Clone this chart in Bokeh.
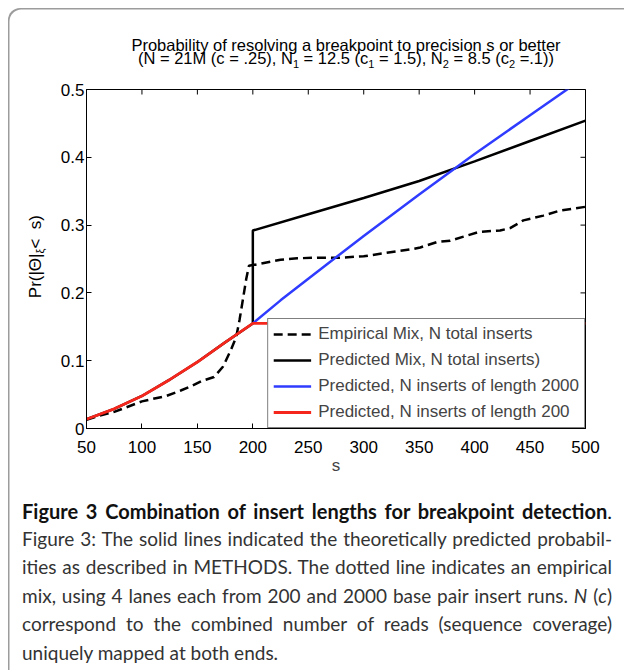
from math import pi
from bokeh.plotting import figure
from bokeh.models import Range1d, FixedTicker, Div
from bokeh.layouts import column, row
from bokeh.embed import file_html
from bokeh.resources import INLINE

# ---------------- data ----------------
s_emp = [50, 62, 75, 84, 100, 108, 122, 135, 144, 154, 165, 173, 180, 185, 188,
         191, 194, 196.5, 200, 207, 216, 225, 240, 258, 279, 300, 324, 345, 351,
         366, 378, 390, 404, 423, 432, 444, 462, 477, 500]
p_emp = [0.013, 0.019, 0.0245, 0.03, 0.04, 0.043, 0.048, 0.056, 0.062, 0.070,
         0.076, 0.091, 0.115, 0.135, 0.16, 0.19, 0.22, 0.240, 0.241, 0.243, 0.246,
         0.249, 0.251, 0.252, 0.252, 0.254, 0.260, 0.265, 0.267, 0.275, 0.277,
         0.283, 0.290, 0.292, 0.2955, 0.307, 0.314, 0.3215, 0.327]

s_mix = [50, 75, 100, 125, 150, 175, 200, 200, 250, 300, 350, 400, 450, 500]
p_mix = [0.0137, 0.029, 0.048, 0.072, 0.098, 0.127, 0.155, 0.292, 0.316, 0.340,
         0.365, 0.394, 0.424, 0.454]

s_2000 = [200, 225, 250, 300, 350, 400, 450, 500]
p_2000 = [0.155, 0.189, 0.221, 0.284, 0.345, 0.405, 0.462, 0.519]

s_200 = [50, 75, 100, 125, 150, 175, 200, 500]
p_200 = [0.0137, 0.029, 0.048, 0.072, 0.098, 0.127, 0.155, 0.155]

x_ticks = [50, 100, 150, 200, 250, 300, 350, 400, 450, 500]
y_ticks = [0, 0.1, 0.2, 0.3, 0.4, 0.5]
y_tick_labels = ["0", "0.1", "0.2", "0.3", "0.4", "0.5"]

series_labels = ["Empirical Mix, N total inserts",
                 "Predicted Mix, N total inserts)",
                 "Predicted, N inserts of length 2000",
                 "Predicted, N inserts of length 200"]

title_lines = ["Probability of resolving a breakpoint to precision s or better",
               "(N = 21M (c = .25), N<sub>1</sub> = 12.5 (c<sub>1</sub> = 1.5), "
               "N<sub>2</sub> = 8.5 (c<sub>2</sub> =.1))"]

caption_head = "Figure 3 Combination of insert lengths for breakpoint detection"
caption_lines = [
    "Figure 3: The solid lines indicated the theoretically predicted probabil-",
    "ities as described in METHODS. The dotted line indicates an empirical",
    "mix, using 4 lanes each from 200 and 2000 base pair insert runs. <i>N</i> (<i>c</i>)",
    "correspond to the combined number of reads (sequence coverage)",
    "uniquely mapped at both ends.",
]

FONT = "Liberation Sans"

# ---------------- figure ----------------
p = figure(frame_width=499, frame_height=339,
           min_border_left=34, min_border_right=39,
           min_border_top=11, min_border_bottom=60,
           x_range=Range1d(50, 500), y_range=Range1d(0, 0.5),
           output_backend="svg", toolbar_location=None,
           border_fill_color=None, background_fill_color="white")
p.outline_line_color = "black"
p.outline_line_width = 1
p.xgrid.visible = False
p.ygrid.visible = False

p.xaxis.ticker = FixedTicker(ticks=x_ticks)
p.yaxis.ticker = FixedTicker(ticks=y_ticks)
p.yaxis.major_label_overrides = {t: l for t, l in zip(y_ticks, y_tick_labels)}
p.xaxis.axis_label = "s"
p.xaxis.axis_label_text_font_style = "normal"
p.xaxis.axis_label_text_font = FONT
p.xaxis.axis_label_text_font_size = "17px"
p.xaxis.axis_label_standoff = 0
p.xaxis.major_label_standoff = 12
p.yaxis.major_label_standoff = 2

for ax in p.axis:
    ax.axis_line_color = "black"
    ax.major_tick_line_color = "black"
    ax.major_tick_in = 5
    ax.major_tick_out = 0
    ax.minor_tick_line_color = None
    ax.major_label_text_font = FONT
    ax.major_label_text_font_size = "17px"
    ax.major_label_text_color = "black"

# inward ticks on the top and right edges of the box
p.scatter(x_ticks, [y_ticks[-1]] * len(x_ticks), marker="dash", angle=pi / 2,
          size=10, line_color="black", line_width=1)
p.scatter([x_ticks[-1]] * len(y_ticks), y_ticks, marker="dash",
          size=10, line_color="black", line_width=1)

p.line(s_emp, p_emp, line_color="black", line_width=2.5, line_dash="9 5",
       legend_label=series_labels[0])
p.line(s_mix, p_mix, line_color="black", line_width=2.5,
       legend_label=series_labels[1])
p.line(s_2000, p_2000, line_color="#2f3cff", line_width=2.5,
       legend_label=series_labels[2])
p.line(s_200, p_200, line_color="#f5261c", line_width=2.8,
       legend_label=series_labels[3])

lg = p.legend[0]
lg.location = "bottom_right"
lg.margin = 0
lg.padding = 5
lg.spacing = 6
lg.glyph_height = 20
lg.glyph_width = 38
lg.label_height = 20
lg.label_standoff = 7
lg.label_text_font = FONT
lg.label_text_font_size = "17px"
lg.border_line_color = "black"
lg.border_line_width = 1
lg.background_fill_alpha = 1

# ---------------- title (two tight lines) ----------------
title_html = ('<div style="width:540px; margin-left:68px; padding-top:31px; '
              'font-family:\'Liberation Sans\'; font-size:16.5px; line-height:13px; '
              'color:#000; text-align:center; white-space:nowrap;">'
              + '<div>' + title_lines[0] + '</div>'
              + '<div>' + title_lines[1].replace(
                  '<sub>', '<sub style="font-size:11px; line-height:0;">') + '</div>'
              + '</div>')
title_div = Div(text=title_html, width=616, height=70, margin=0)

# ---------------- y axis label ----------------
ylab_html = ('<div style="position:relative; width:44px; height:410px;">'
             '<div style="position:absolute; left:18px; bottom:190px; '
             'writing-mode:vertical-rl; transform:rotate(180deg); '
             'font-family:\'Liberation Sans\'; font-size:17px; line-height:20px; '
             'white-space:nowrap; color:#000;">'
             'Pr(|\u0398|<sub style="font-size:11px; line-height:0;">\u03be</sub>'
             '&lt;&nbsp;&nbsp;s)'
             '</div></div>')
ylab_div = Div(text=ylab_html, width=44, height=410, margin=0)

# ---------------- caption ----------------
line_style = "font-size:19px; line-height:28.4px; color:#333; white-space:nowrap;"
html = ['<div style="font-family:Lato; width:590px; margin-left:14px; padding-top:9px;">',
        '<div style="font-weight:bold; font-size:20px; line-height:28px; color:#111; '
        'white-space:nowrap; text-align:justify; text-align-last:justify;">'
        + caption_head + '<span style="font-weight:normal">.</span></div>']
for i, ln in enumerate(caption_lines):
    just = "text-align:justify; text-align-last:justify;" if i < len(caption_lines) - 1 else ""
    html.append('<div style="' + line_style + just + '">' + ln + '</div>')
html.append('</div>')
cap = Div(text="".join(html), width=616, height=182, margin=0,
          styles={"overflow": "hidden"})

layout = column(title_div, row(ylab_div, p, spacing=0), cap, spacing=0,
                margin=(8, 0, 0, 8),
                styles={"box-shadow": "inset 1.5px 1.5px 0 0 #9c9c9c",
                        "border-top-left-radius": "12px"})

open("out.html", "w").write(file_html(layout, INLINE))
